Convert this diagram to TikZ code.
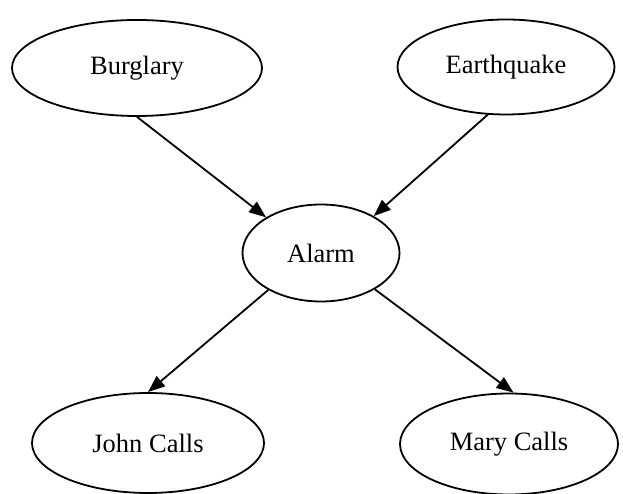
\documentclass[tikz,border=0pt]{standalone}
\usepackage{fontspec}
\setmainfont{Liberation Serif}
\usetikzlibrary{shapes.geometric,arrows.meta}
\begin{document}
\begin{tikzpicture}[x=1pt,y=1pt,
  bnode/.style={ellipse,draw=black,line width=1.8pt,inner sep=0pt,font=\fontsize{26.5}{30}\selectfont},
  link/.style={line width=1.8pt,-{Triangle[length=17pt,width=13pt]}}]
\useasboundingbox (0,0) rectangle (623,494);
\node[bnode,minimum width=250pt,minimum height=96pt] (b) at (137,426) {Burglary};
\node[bnode,minimum width=217pt,minimum height=95pt] (e) at (506,427) {Earthquake};
\node[bnode,minimum width=157pt,minimum height=97pt] (a) at (321,241) {Alarm};
\node[bnode,minimum width=232pt,minimum height=100pt] (j) at (148,51) {John Calls};
\node[bnode,minimum width=218pt,minimum height=101pt] (m) at (509,50) {Mary Calls};
\draw[link] (b.south) -- (a.147);
\draw[link] (e.249) -- (a.35);
\draw[link] (a.215) -- (j.north);
\draw[link] (a.326) -- (m.85);
\end{tikzpicture}
\end{document}
